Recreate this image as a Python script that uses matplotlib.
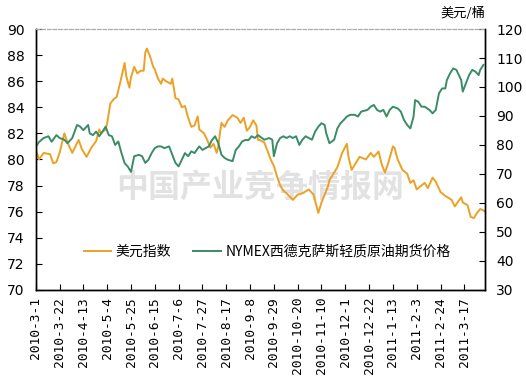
import matplotlib
matplotlib.use("Agg")
import matplotlib.pyplot as plt

# trading-day index (0 = 2010-3-1) and values
days_usd = [0, 2, 5, 9, 11, 13, 15, 18, 20, 23, 27, 29, 32, 35, 38, 40, 41, 44, 45, 47,
            49, 51, 53, 56, 57, 59, 60, 62, 64, 66, 68, 69, 70, 72, 74, 75, 77, 79, 80, 82,
            85, 86, 88, 90, 92, 94, 96, 98, 100, 102, 103, 106, 108, 110, 112, 114, 115, 116, 117, 119,
            121, 124, 127, 129, 131, 133, 135, 137, 139, 140, 141, 144, 148, 150, 152, 154, 156, 158, 162, 165,
            168, 172, 175, 178, 180, 184, 185, 190, 193, 196, 197, 199, 201, 204, 208, 211, 213, 216, 218, 220,
            222, 225, 226, 228, 231, 234, 236, 238, 240, 242, 245, 247, 250, 252, 255, 258, 262, 264, 268, 269,
            272, 274, 276, 278, 280, 282, 283]
usd_index = [80.8, 80.0, 80.5, 80.4, 79.7, 79.8, 80.5, 82.0, 81.3, 80.5, 81.5, 80.8, 80.2, 80.9, 81.4, 82.3, 82.0, 82.3, 82.8, 84.3,
             84.6, 84.8, 85.8, 87.4, 86.4, 85.5, 86.3, 87.1, 86.6, 86.8, 86.8, 88.2, 88.5, 87.9, 87.1, 86.9, 86.2, 85.8, 86.2, 86.0,
             85.8, 86.2, 84.7, 84.6, 84.0, 84.1, 83.2, 82.5, 82.6, 83.3, 82.3, 82.0, 81.5, 80.9, 81.2, 80.5, 81.0, 82.0, 82.8, 82.5,
             83.0, 83.4, 83.2, 82.8, 83.2, 82.2, 82.5, 83.0, 82.6, 81.5, 81.5, 81.3, 80.0, 79.5, 78.7, 78.0, 77.6, 77.4, 76.9, 77.3,
             77.4, 77.7, 77.3, 75.9, 76.7, 77.9, 78.4, 79.4, 80.5, 81.2, 80.2, 79.2, 79.6, 80.2, 80.0, 80.5, 80.2, 80.6, 79.6, 79.0,
             79.7, 81.0, 80.9, 80.0, 79.2, 78.9, 78.2, 78.4, 77.7, 77.9, 78.2, 77.8, 78.6, 78.3, 77.5, 77.2, 76.9, 76.4, 77.1, 76.7,
             76.5, 75.6, 75.5, 75.9, 76.2, 76.1, 76.0]

days_wti = [0, 2, 5, 8, 10, 13, 15, 18, 20, 23, 26, 28, 30, 33, 34, 36, 38, 40, 42, 44,
            46, 48, 50, 52, 54, 56, 58, 60, 62, 65, 67, 69, 71, 73, 75, 77, 79, 81, 84, 86,
            88, 90, 92, 94, 96, 98, 100, 103, 105, 107, 109, 111, 113, 115, 117, 119, 121, 124, 126, 128,
            130, 132, 134, 136, 138, 140, 141, 144, 147, 149, 150, 152, 154, 156, 158, 160, 162, 164, 166, 168,
            170, 172, 174, 176, 178, 180, 182, 183, 185, 188, 190, 192, 194, 196, 198, 201, 203, 205, 209, 211,
            213, 215, 217, 219, 221, 223, 225, 228, 230, 232, 234, 236, 238, 239, 241, 243, 245, 248, 250, 252,
            254, 256, 258, 259, 261, 263, 265, 268, 269, 271, 273, 275, 277, 279, 280, 282]
wti_price = [79.3, 81.0, 82.4, 83.0, 81.1, 83.4, 82.4, 81.8, 80.6, 82.4, 86.9, 86.3, 85.1, 86.9, 84.0, 83.4, 84.6, 83.0, 84.6, 86.3,
             83.4, 83.0, 80.0, 81.2, 77.2, 73.7, 72.5, 70.7, 76.1, 76.6, 76.1, 73.8, 74.9, 77.2, 78.9, 79.5, 79.5, 78.9, 79.5, 76.6,
             73.8, 72.6, 74.9, 77.2, 76.1, 77.8, 77.2, 79.5, 78.3, 78.9, 79.5, 81.7, 83.0, 80.6, 76.6, 75.5, 74.9, 74.4, 78.3, 79.5,
             81.2, 81.7, 81.7, 83.0, 82.4, 83.4, 83.0, 81.8, 82.4, 81.8, 76.1, 80.6, 82.4, 83.0, 82.4, 83.0, 82.4, 83.0, 80.0, 81.8,
             83.0, 82.4, 81.8, 84.6, 86.3, 87.5, 86.9, 84.0, 80.6, 81.8, 85.7, 87.5, 88.6, 89.8, 90.4, 90.4, 89.8, 91.5, 92.1, 93.2,
             93.8, 92.1, 91.5, 92.1, 89.8, 92.1, 93.2, 92.6, 91.5, 88.6, 86.9, 85.7, 89.8, 95.5, 94.9, 93.2, 93.2, 92.1, 90.9, 92.1,
             97.8, 99.5, 99.5, 102.4, 104.7, 106.4, 105.9, 102.4, 98.4, 101.3, 104.1, 105.9, 105.3, 104.1, 105.9, 107.6]

tick_days = list(range(0, 271, 15))
tick_labels = ["2010-3-1", "2010-3-22", "2010-4-13", "2010-5-4", "2010-5-25", "2010-6-15",
               "2010-7-6", "2010-7-27", "2010-8-17", "2010-9-8", "2010-9-29", "2010-10-20",
               "2010-11-10", "2010-12-1", "2010-12-22", "2011-1-13", "2011-2-3", "2011-2-24",
               "2011-3-17"]

cjk = ["Noto Sans CJK SC", "DejaVu Sans"]
orange = "#EBA125"
green = "#3A8C68"

fig = plt.figure(figsize=(5.26, 3.87), dpi=100)
ax = fig.add_axes([0.068, 0.251, 0.854, 0.674])
ax2 = ax.twinx()

# watermark
ax.text(0.5, 0.39, "中国产业竞争情报网", transform=ax.transAxes, ha="center", va="center",
        fontsize=23, fontweight="bold", color="#E2E2E2", family=cjk, zorder=0)

l1, = ax.plot(days_usd, usd_index, color=orange, lw=1.4, label="美元指数")
l2, = ax2.plot(days_wti, wti_price, color=green, lw=1.4, label="NYMEX西德克萨斯轻质原油期货价格")

ax.set_xlim(0, 283)
ax.set_ylim(70, 90)
ax.set_yticks(range(70, 91, 2))
ax2.set_ylim(30, 120)
ax2.set_yticks(range(30, 121, 10))
ax.set_xticks(tick_days)
ax.set_xticklabels(tick_labels, rotation=90, family="DejaVu Sans Mono", fontsize=9.3)

ax.tick_params(axis="y", direction="in", length=4, width=0.8, labelsize=10, pad=8)
ax.tick_params(axis="x", direction="in", length=4, width=0.8, pad=5)
ax2.tick_params(axis="y", direction="in", length=4, width=0.8, labelsize=10, pad=8)

for a in (ax, ax2):
    a.spines["top"].set_linestyle((0, (3, 2)))
    a.spines["top"].set_color("#AAAAAA")
    a.spines["top"].set_linewidth(0.8)
    for s in ("left", "right", "bottom"):
        a.spines[s].set_linewidth(1.0)

ax2.text(1.0, 1.035, "美元/桶", transform=ax2.transAxes, ha="right", va="bottom",
         fontsize=9.5, family=cjk)

ax.legend([l1, l2], [l1.get_label(), l2.get_label()], loc="center", bbox_to_anchor=(0.515, 0.146),
          ncol=2, frameon=False, handlelength=2.0, columnspacing=1.6, handletextpad=0.3,
          prop={"family": cjk, "size": 10})

fig.savefig("out.png", dpi=100)
